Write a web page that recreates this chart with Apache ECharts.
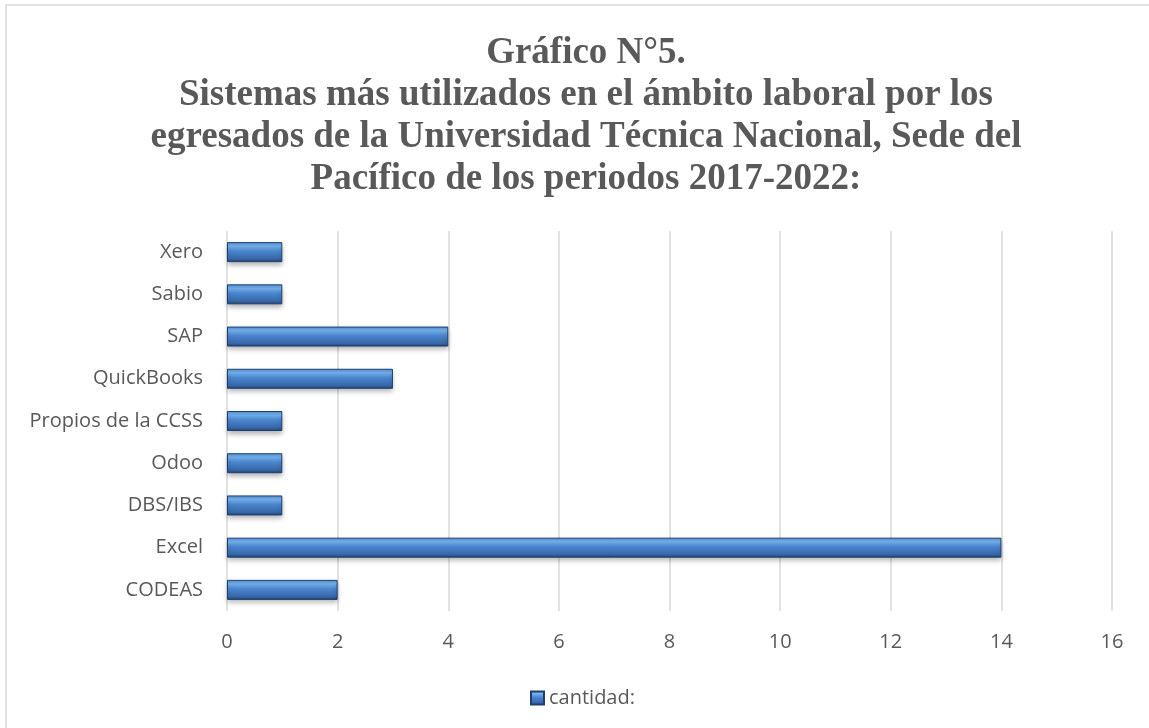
<!DOCTYPE html>
<html>
<head>
<meta charset="utf-8">
<script src="https://cdn.jsdelivr.net/npm/echarts@6/dist/echarts.min.js"></script>
<style>
  html, body { margin: 0; padding: 0; background: #fff; }
  #chart { width: 1149px; height: 728px; }
</style>
</head>
<body>
<div id="chart"></div>
<script>
// categories bottom -> top (as in the y axis)
var sistemas = ['CODEAS', 'Excel', 'DBS/IBS', 'Odoo', 'Propios de la CCSS', 'QuickBooks', 'SAP', 'Sabio', 'Xero'];
var cantidad = [2, 14, 1, 1, 1, 3, 4, 1, 1];
var ticksX = [0, 16, 2];

var myChart = echarts.init(document.getElementById('chart'));

var barColor = new echarts.graphic.LinearGradient(0, 0, 0, 1, [
    {offset: 0, color: '#4f8fd8'},
    {offset: 0.2, color: '#78b4f0'},
    {offset: 0.45, color: '#4a86cf'},
    {offset: 0.85, color: '#3766a6'},
    {offset: 1, color: '#1f3f6e'}
]);

myChart.setOption({
    animation: false,
    title: {
        text: 'Gráfico N°5.\nSistemas más utilizados en el ámbito laboral por los\negresados de la Universidad Técnica Nacional, Sede del\nPacífico de los periodos 2017-2022:',
        left: 581,
        top: 27,
        textAlign: 'center',
        textStyle: {
            fontFamily: 'Liberation Serif',
            fontWeight: 'bold',
            fontSize: 37,
            lineHeight: 42,
            color: '#595959'
        }
    },
    graphic: [{
        type: 'rect',
        shape: {x: 6, y: 5, width: 1160, height: 740},
        style: {fill: 'none', stroke: '#d9d9d9', lineWidth: 1.5},
        silent: true
    }],
    legend: {
        data: ['cantidad:'],
        left: 525,
        top: 683,
        icon: 'rect',
        itemWidth: 13,
        itemHeight: 13,
        itemGap: 5,
        textStyle: {
            fontFamily: 'Open Sans',
            fontSize: 20,
            color: '#595959'
        }
    },
    grid: {
        left: 227,
        right: 37,
        top: 231,
        bottom: 117,
        containLabel: false
    },
    xAxis: {
        type: 'value',
        min: ticksX[0],
        max: ticksX[1],
        interval: ticksX[2],
        axisLine: {show: false},
        axisTick: {show: false},
        splitLine: {lineStyle: {color: '#d9d9d9', width: 1.5}},
        axisLabel: {
            margin: 21,
            fontFamily: 'Open Sans',
            fontSize: 20,
            color: '#595959'
        }
    },
    yAxis: {
        type: 'category',
        data: sistemas,
        axisLine: {show: false},
        axisTick: {show: false},
        axisLabel: {
            margin: 24,
            fontFamily: 'Open Sans',
            fontSize: 20,
            color: '#595959'
        }
    },
    series: [{
        name: 'cantidad:',
        type: 'bar',
        data: cantidad,
        barWidth: 20,
        itemStyle: {
            color: barColor,
            borderColor: '#1f3f6e',
            borderWidth: 1,
            shadowColor: 'rgba(0,0,0,0.3)',
            shadowBlur: 5,
            shadowOffsetY: 3
        }
    }]
});
</script>
</body>
</html>
